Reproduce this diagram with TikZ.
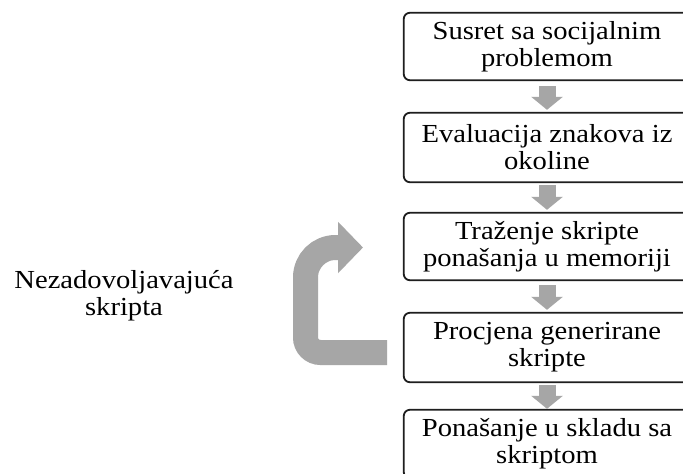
\documentclass[tikz,border=0pt]{standalone}
\usepackage{fontspec}
\setmainfont{Liberation Serif}[FakeStretch=1.1]
\usetikzlibrary{arrows.meta}
\definecolor{arrgray}{HTML}{A6A6A6}
\definecolor{boxline}{HTML}{1E1E1E}
\begin{document}
\begin{tikzpicture}[x=1pt,y=-1pt,
  stepbox/.style={minimum width=286pt, align=center, font=\fontsize{26}{27}\selectfont, inner sep=0pt},
  boxframe/.style={draw=boxline, line width=1.8pt, rounded corners=6pt},
  flow/.style={line width=17pt, draw=arrgray, -{Triangle[length=13pt,width=31pt]}},
  loopflow/.style={line width=25pt, draw=arrgray, -{Triangle[length=25pt,width=50pt]}},
  lbl/.style={align=center, font=\fontsize{26}{27}\selectfont, inner sep=0pt}
]
\useasboundingbox (0,0) rectangle (683,474);
\clip (0,0) rectangle (683,474);
\fill[white] (0,0) rectangle (683,474);

\node[stepbox, minimum height=67pt] (b1) at (547,46.5) {Susret sa socijalnim\\problemom};
\node[stepbox, minimum height=69pt] (b2) at (547,147.5) {Evaluacija znakova iz\\okoline};
\node[stepbox, minimum height=67pt] (b3) at (547,246.5) {Traženje skripte\\ponašanja u memoriji};
\node[stepbox, minimum height=69pt] (b4) at (547,347.5) {Procjena generirane\\skripte};
\node[stepbox, minimum height=68pt] (b5) at (547,444) {Ponašanje u skladu sa\\skriptom};

\foreach \b in {b1,b2,b3,b4,b5}
  \draw[boxframe] (\b.south west) rectangle ([xshift=40pt]\b.north east);

\draw[flow, shorten <=6pt, shorten >=3pt] (b1) -- (b2);
\draw[flow, shorten <=3pt, shorten >=3pt] (b2) -- (b3);
\draw[flow, shorten <=5pt, shorten >=3pt] (b3) -- (b4);
\draw[flow, shorten <=3pt, shorten >=1pt] (b4) -- (b5);

\node[lbl] (nez) at (124,296) {Nezadovoljavajuća\\skripta};

\coordinate (l1) at (387,352.5);
\coordinate (l4) at (363,247.5);
\draw[loopflow] (l1) -- (320.5,352.5)
  .. controls (312.2,352.5) and (305.5,345.8) .. (305.5,337.5)
  -- (305.5,277.5)
  .. controls (305.5,260.9) and (318.9,247.5) .. (335.5,247.5)
  -- (l4);
\end{tikzpicture}
\end{document}
